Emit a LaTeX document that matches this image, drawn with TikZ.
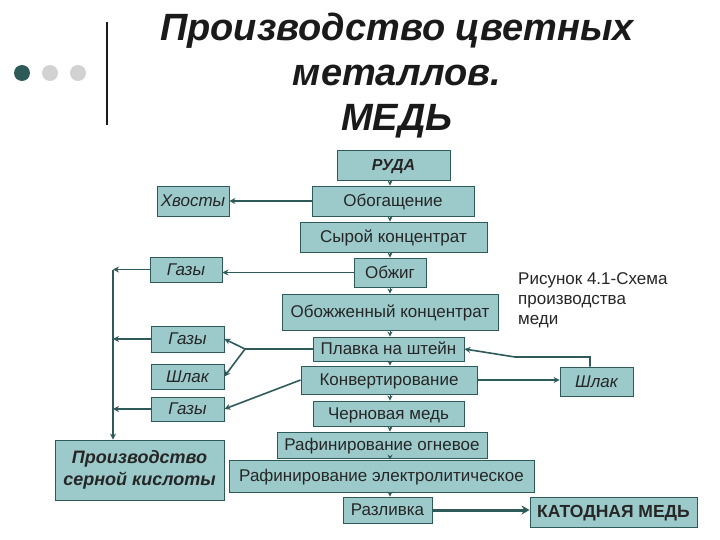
\documentclass[tikz,border=0pt]{standalone}
\usepackage{fontspec}
\setmainfont{Liberation Sans}
\usetikzlibrary{arrows.meta}
\definecolor{boxfill}{HTML}{9CCACA}
\definecolor{edge}{HTML}{2F5A5A}
\definecolor{ttl}{HTML}{1A1A1A}
\begin{document}
\begin{tikzpicture}[x=1pt,y=-1pt,
  bx/.style={draw=edge,line width=0.9pt,fill=boxfill,inner sep=0pt,text=black!85,font=\fontsize{17}{19}\selectfont,text height=12.5pt,text depth=1.5pt},
  it/.style={font=\fontsize{17}{19}\selectfont\itshape},
  ln/.style={draw=edge,line width=1.6pt},
  ar/.style={ln,-{Stealth[length=6pt,width=6pt]}}]
\useasboundingbox (0,0) rectangle (720,540);
\fill[white] (0,0) rectangle (720,540);
% decoration
\draw[ttl,line width=2pt] (107,22) -- (107,125);
\fill[edge] (22,73) circle (8);
\fill[gray!35] (50,73) circle (8);
\fill[gray!35] (78,73) circle (8);
\node[font=\fontsize{38}{45}\selectfont\bfseries\itshape,text=ttl,align=center] (title) at (397,76) {Производство цветных\\металлов.\\МЕДЬ};
\newcommand{\bxn}[6][]{\node[bx,#1,minimum width=#4-#2,minimum height=#5-#3] (#6) at ({(#2+#4)/2},{(#3+#5)/2})}
\bxn[font=\fontsize{16}{19}\selectfont\bfseries\itshape]{337}{150}{450}{180}{ruda} {РУДА};
\bxn{312}{186}{474}{216}{obog} {Обогащение};
\bxn[it]{157}{186}{229}{216}{hv} {Хвосты};
\bxn{300}{222}{487}{252}{syr} {Сырой концентрат};
\bxn{354}{258}{426}{287}{obzh} {Обжиг};
\bxn[it]{150}{257}{222}{282}{g1} {Газы};
\bxn{282}{294}{498}{330}{obk} {Обожженный концентрат};
\bxn[it]{151}{326}{224}{352}{g2} {Газы};
\bxn{313}{337}{464}{361}{plav} {Плавка на штейн};
\bxn[it]{151}{364}{224}{389}{sh1} {Шлак};
\bxn{301}{366}{477}{394}{konv} {Конвертирование};
\bxn[it]{560}{367}{633}{396}{sh2} {Шлак};
\bxn[it]{151}{397}{224}{421}{g3} {Газы};
\bxn{313}{401}{464}{426}{cher} {Черновая медь};
\bxn{277}{432}{487}{458}{rog} {Рафинирование огневое};
\bxn[font=\fontsize{18}{22}\selectfont\bfseries\itshape,align=center,text height=,text depth=]{55}{440}{224}{500}{sk} {Производство\\серной кислоты};
\bxn{229}{460}{534}{492}{rel} {Рафинирование электролитическое};
\bxn{343}{497}{432}{523}{razl} {Разливка};
\bxn[font=\fontsize{17.5}{19}\selectfont\bfseries]{530}{497}{697}{527}{kat} {КАТОДНАЯ МЕДЬ};
\node[anchor=north west,align=left,font=\fontsize{17}{20}\selectfont,text=black!85,inner sep=0pt] (cap) at (518,272) {Рисунок 4.1-Схема\\производства\\меди};
% main chain
\foreach \a/\b in {ruda/obog,obog/syr,syr/obzh,obzh/obk,obk/plav,plav/konv,konv/cher,cher/rog,rog/rel,rel/razl}
  \draw[ar,line width=1pt,-{Stealth[length=5pt,width=5pt]}] (\a.south -| 390,0) -- (\b.north -| 390,0);
\draw[ar] (obog.west) -- (obog.west -| hv.east);
\draw[ar] (obzh.west) -- (obzh.west -| g1.east);
\coordinate (br) at (245,349);
\draw[ln] (plav.west) -- (br);
\draw[ar] (br) -- (g2.east);
\draw[ar] (br) -- (sh1.east);
\draw[ar] (konv.west) -- (g3.east);
\draw[ar] (konv.east) -- (konv.east -| sh2.west);
\coordinate (k1) at (590,357);
\coordinate (k2) at (515,357);
\draw[ar] (sh2.north -| k1) -- (k1) -- (k2) -- (plav.east);
\coordinate (bt) at (113,269.5);
\draw[ar] (bt) -- (sk.north -| bt);
\draw[ar] (g1.west) -- (g1.west -| bt);
\draw[ar] (g2.west) -- (g2.west -| bt);
\draw[ar] (g3.west) -- (g3.west -| bt);
\draw[ln,line width=3pt,-{Stealth[length=8pt,width=9pt]}] (razl.east) -- (razl.east -| kat.west);
\end{tikzpicture}
\end{document}
